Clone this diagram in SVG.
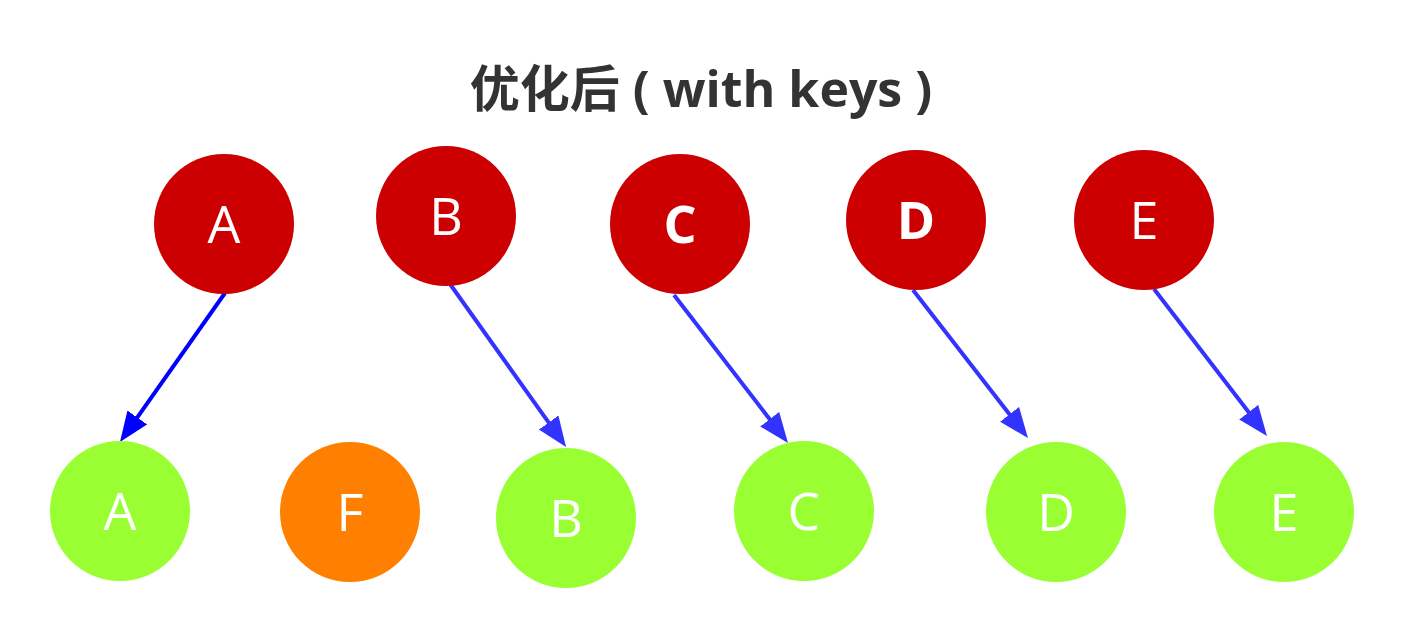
<svg xmlns="http://www.w3.org/2000/svg" width="1404" height="638" viewBox="0 0 1404 638">
<style>
.title{font-family:"Open Sans","Noto Sans CJK SC",sans-serif;font-weight:bold;font-size:50px;fill:#333333}
.lbl{font-family:"Open Sans","Noto Sans CJK SC",sans-serif;font-size:52px;fill:#ffffff;text-anchor:middle}
.b{font-weight:bold}
.old{fill:#cc0000}
.new{fill:#99ff33}
.extra{fill:#ff8000}
.edge{stroke-width:4;fill:none}
</style>
<defs>
<marker id="ahA" markerUnits="userSpaceOnUse" viewBox="0 -13 32 26" markerWidth="32" markerHeight="26" refX="2" refY="0" orient="auto"><path d="M0,-12 L30,0 L0,12 z" fill="#0000ff"/></marker>
<marker id="ah" markerUnits="userSpaceOnUse" viewBox="0 -13 32 26" markerWidth="32" markerHeight="26" refX="2" refY="0" orient="auto"><path d="M0,-12 L30,0 L0,12 z" fill="#3333ff"/></marker>
</defs>
<rect width="1404" height="638" fill="#ffffff"/>
<text class="title" x="701" y="107" text-anchor="middle">优化后 ( with keys )</text>
<g id="edges">
<line class="edge" x1="225" y1="293" x2="136.1" y2="419.1" stroke="#0000ff" marker-end="url(#ahA)"/>
<line class="edge" x1="450" y1="284" x2="549.8" y2="424.2" stroke="#3333ff" marker-end="url(#ah)"/>
<line class="edge" x1="674" y1="295" x2="770.9" y2="420.8" stroke="#3333ff" marker-end="url(#ah)"/>
<line class="edge" x1="913" y1="290" x2="1010.8" y2="415.9" stroke="#3333ff" marker-end="url(#ah)"/>
<line class="edge" x1="1154" y1="289" x2="1249.9" y2="413.8" stroke="#3333ff" marker-end="url(#ah)"/>
</g>
<g id="oldA"><circle class="old" cx="224" cy="224" r="70"/><text class="lbl" x="224" y="243">A</text></g>
<g id="oldB"><circle class="old" cx="446" cy="216" r="70"/><text class="lbl" x="446" y="235">B</text></g>
<g id="oldC"><circle class="old" cx="680" cy="224" r="70"/><text class="lbl b" x="680" y="243">C</text></g>
<g id="oldD"><circle class="old" cx="916" cy="220" r="70"/><text class="lbl b" x="916" y="239">D</text></g>
<g id="oldE"><circle class="old" cx="1144" cy="220" r="70"/><text class="lbl" x="1144" y="239">E</text></g>
<g id="newA"><circle class="new" cx="120" cy="511" r="70"/><text class="lbl" x="120" y="530">A</text></g>
<g id="newF"><circle class="extra" cx="350" cy="512" r="70"/><text class="lbl" x="350" y="531">F</text></g>
<g id="newB"><circle class="new" cx="566" cy="518" r="70"/><text class="lbl" x="566" y="537">B</text></g>
<g id="newC"><circle class="new" cx="804" cy="511" r="70"/><text class="lbl" x="804" y="530">C</text></g>
<g id="newD"><circle class="new" cx="1056" cy="512" r="70"/><text class="lbl" x="1056" y="531">D</text></g>
<g id="newE"><circle class="new" cx="1284" cy="512" r="70"/><text class="lbl" x="1284" y="531">E</text></g>
</svg>
